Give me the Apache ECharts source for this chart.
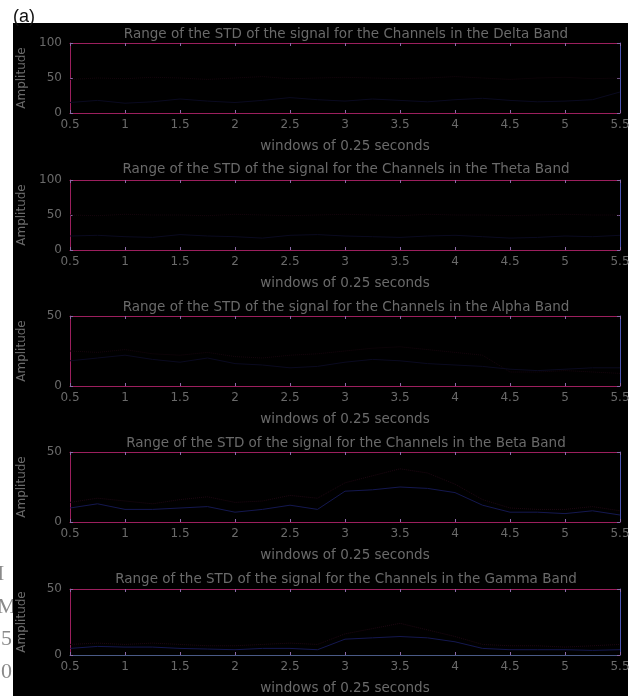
<!DOCTYPE html>
<html>
<head>
<meta charset="utf-8">
<script src="https://cdn.jsdelivr.net/npm/echarts@6/dist/echarts.min.js"></script>
<style>
html,body{margin:0;padding:0;background:#fff;}
#chart{width:634px;height:696px;}
</style>
</head>
<body>
<div id="chart"></div>
<script>
// ---- data (x = windows of 0.25 s) ----
const xs = [0.5, 0.75, 1, 1.25, 1.5, 1.75, 2, 2.25, 2.5, 2.75, 3, 3.25, 3.5, 3.75, 4, 4.25, 4.5, 4.75, 5, 5.25, 5.5];
const xTicks = ['0.5', '1', '1.5', '2', '2.5', '3', '3.5', '4', '4.5', '5', '5.5'];
const bandNames = ['Delta', 'Theta', 'Alpha', 'Beta', 'Gamma'];
const yMax = [100, 100, 50, 50, 50];

const deltaBlue = [15, 18, 14, 16, 20, 17, 15, 18, 22, 19, 17, 20, 18, 16, 19, 21, 18, 16, 17, 19, 30];
const deltaRed  = [48, 50, 49, 51, 50, 48, 50, 52, 49, 50, 51, 50, 49, 50, 52, 50, 48, 50, 51, 49, 50];
const thetaBlue = [20, 21, 19, 18, 22, 20, 19, 17, 21, 22, 20, 19, 18, 20, 21, 19, 17, 18, 20, 19, 21];
const thetaRed  = [50, 49, 51, 50, 50, 49, 51, 50, 49, 50, 51, 50, 49, 51, 50, 50, 49, 50, 51, 50, 50];
const alphaBlue = [18, 20, 22, 19, 17, 20, 16, 15, 13, 14, 17, 19, 18, 16, 15, 14, 12, 11, 12, 13, 13];
const alphaRed  = [25, 24, 26, 23, 22, 24, 21, 20, 22, 23, 25, 27, 28, 26, 24, 22, 10, 10, 11, 10, 9];
const betaBlue  = [10, 13, 9, 9, 10, 11, 7, 9, 12, 9, 22, 23, 25, 24, 21, 12, 7, 7, 6, 8, 5];
const betaRed   = [14, 17, 15, 13, 16, 18, 14, 15, 19, 17, 28, 33, 38, 35, 27, 16, 10, 9, 9, 11, 8];
const gammaBlue = [5, 6.5, 6, 6, 5, 4.5, 4, 5, 5, 4, 12, 13, 14, 13, 10, 5, 4, 4, 4, 3.5, 4];
const gammaRed  = [8, 9, 8, 9, 8, 7, 7, 8, 9, 8, 16, 20, 24, 19, 14, 8, 7, 7, 6, 7, 8];

const blueSets = [deltaBlue, thetaBlue, alphaBlue, betaBlue, gammaBlue];
const redSets  = [deltaRed, thetaRed, alphaRed, betaRed, gammaRed];

// ---- layout ----
const gridTops = [43, 180, 316, 452, 589];
const gridH = 70;
const gridLeft = 70, gridW = 550;
const titleTops = [22, 157, 295, 431, 567];

const textGray = '#6a6a6a';
const frameMag = '#9c1f5e';
const frameBlue = '#4c56b4';
const tickCol = '#8c6aa8';
const font = 'DejaVu Sans';

const grids = [], xAxes = [], yAxes = [], series = [], titles = [];
bandNames.forEach((b, i) => {
  grids.push({left: gridLeft, top: gridTops[i], width: gridW, height: gridH, containLabel: false});
  titles.push({
    text: 'Range of the STD of the signal for the Channels in the ' + b + ' Band',
    left: 341, top: titleTops[i], textAlign: 'center',
    textStyle: {color: textGray, fontSize: 13.5, fontWeight: 'normal', fontFamily: font}
  });
  xAxes.push({
    gridIndex: i, type: 'value', min: 0.5, max: 5.5, interval: 0.5, position: 'bottom',
    name: 'windows of 0.25 seconds', nameLocation: 'middle', nameGap: 26,
    nameTextStyle: {color: textGray, fontSize: 13.5, fontFamily: font},
    axisLine: {show: true, onZero: false, lineStyle: {color: i === 4 ? '#4a5a86' : frameMag, width: 1}},
    axisTick: {show: true, inside: true, length: 3, lineStyle: {color: tickCol}},
    axisLabel: {color: textGray, fontSize: 12, fontFamily: font, margin: 6,
      formatter: v => xTicks.find(t => Number(t) === Math.round(v * 10) / 10) || ''},
    splitLine: {show: false}
  });
  xAxes.push({
    gridIndex: i, type: 'value', min: 0.5, max: 5.5, interval: 0.5, position: 'top',
    axisLine: {show: true, onZero: false, lineStyle: {color: frameMag, width: 1}},
    axisTick: {show: true, inside: true, length: 3, lineStyle: {color: tickCol}},
    axisLabel: {show: false}, splitLine: {show: false}
  });
  yAxes.push({
    gridIndex: i, type: 'value', min: 0, max: yMax[i], interval: 50, position: 'left',
    name: 'Amplitude', nameLocation: 'middle', nameGap: 42, nameRotate: 90,
    nameTextStyle: {color: textGray, fontSize: 12, fontFamily: font},
    axisLine: {show: true, onZero: false, lineStyle: {color: frameMag, width: 1}},
    axisTick: {show: true, inside: true, length: 3, lineStyle: {color: tickCol}},
    axisLabel: {color: textGray, fontSize: 12, fontFamily: font, margin: 8},
    splitLine: {show: false}
  });
  yAxes.push({
    gridIndex: i, type: 'value', min: 0, max: yMax[i], interval: 50, position: 'right',
    axisLine: {show: true, onZero: false, lineStyle: {color: frameBlue, width: 1}},
    axisTick: {show: true, inside: true, length: 3, lineStyle: {color: tickCol}},
    axisLabel: {show: false}, splitLine: {show: false}
  });
  series.push({
    type: 'line', xAxisIndex: 2 * i, yAxisIndex: 2 * i, symbol: 'none', silent: true,
    data: xs.map((x, k) => [x, redSets[i][k]]),
    lineStyle: {color: i >= 3 ? '#1e0712' : '#16050d', width: 1, type: 'dotted'}
  });
  series.push({
    type: 'line', xAxisIndex: 2 * i, yAxisIndex: 2 * i, symbol: 'none', silent: true,
    data: xs.map((x, k) => [x, blueSets[i][k]]),
    lineStyle: {color: i >= 3 ? '#141850' : '#0a0a20', width: 1}
  });
});

const chart = echarts.init(document.getElementById('chart'), null, {renderer: 'canvas'});
chart.setOption({
  backgroundColor: 'transparent',
  animation: false,
  title: titles,
  grid: grids,
  xAxis: xAxes,
  yAxis: yAxes,
  series: series,
  graphic: [
    {type: 'text', z: -200, left: -3, top: 563, style: {text: 'I', fill: '#8a8a8a', font: '22px "Liberation Serif"'}},
    {type: 'text', z: -200, left: -3, top: 596, style: {text: 'M', fill: '#8a8a8a', font: '22px "Liberation Serif"'}},
    {type: 'text', z: -200, left: 1, top: 628, style: {text: '5', fill: '#8a8a8a', font: '22px "Liberation Serif"'}},
    {type: 'text', z: -200, left: 1, top: 661, style: {text: '0', fill: '#8a8a8a', font: '22px "Liberation Serif"'}},
    {type: 'rect', z: -100, shape: {x: 13, y: 23, width: 615, height: 673}, style: {fill: '#000'}},
    {type: 'text', z: 100, left: 13, top: 8, style: {text: '(a)', fill: '#111', font: '18px "Liberation Sans"'}}
  ]
});
</script>
</body>
</html>
